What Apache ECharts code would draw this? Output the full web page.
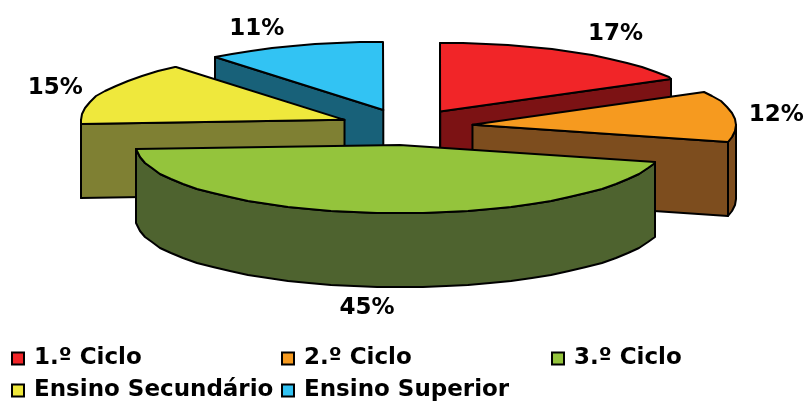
<!DOCTYPE html>
<html><head><meta charset="utf-8">
<style>html,body{margin:0;padding:0;background:#fff}#c{width:807px;height:401px}</style>
<script src="https://cdn.jsdelivr.net/npm/echarts@6/dist/echarts.min.js"></script>
</head><body><div id="c"></div>
<script>
const categories = ['1.º Ciclo','2.º Ciclo','3.º Ciclo','Ensino Secundário','Ensino Superior'];
const values = [17,12,45,15,11];
const topColors = ['#f12528','#f69a1f','#94c43c','#efe83c','#32c3f3'];
const sideColors = ['#7c1214','#7d4d1e','#4e632f','#7f8033','#186179'];

// projection of the tilted, exploded pie
const CX=406, CY=127, RX=264, RY=68.5, EX=67, EY=18, DEPTH=74, STEP=5;
const FONT='bold 23px "DejaVu Sans", Verdana, sans-serif';
const labelNudge=[[-1,1],[0,2],[4,-2],[-5,4],[5,5]];
const total = values.reduce((a,b)=>a+b,0);
const rad = d => d*Math.PI/180;
const starts = []; values.reduce((s,v,i)=>(starts[i]=s, s+v/total*360),0);

function build(i, v, pal){
  const a0=starts[i], a1=a0+v/total*360, mid=(a0+a1)/2;
  const ax=CX+EX*Math.sin(rad(mid)), ay=CY-EY*Math.cos(rad(mid));
  const pt=d=>[Math.round(ax+RX*Math.sin(rad(d))), Math.round(ay-RY*Math.cos(rad(d)))];
  const angles=[a0];
  for(let d=Math.ceil(a0/STEP+1e-6)*STEP;d<a1;d+=STEP) angles.push(d);
  angles.push(a1);
  const apex=[ax,ay], arc=angles.map(pt);
  const outline=[apex].concat(arc);
  const kids=[];
  const line={stroke:'#000',lineWidth:2,lineJoin:'round',fill:pal.side};
  const wall=(pts)=>{
    const low=pts.slice().reverse().map(p=>[p[0],p[1]+DEPTH]);
    kids.push({type:'polygon',shape:{points:pts.concat(low)},style:line,silent:true});
  };
  // only the walls that face the viewer
  if(arc[arc.length-1][0]>apex[0]) wall([arc[arc.length-1],apex]);
  if(arc[0][0]<apex[0]) wall([apex,arc[0]]);
  const front=angles.filter(d=>d>=90&&d<=270);
  const a90=Math.max(a0,90), a270=Math.min(a1,270);
  if(a90<a270){
    const fa=[a90].concat(front.filter(d=>d>a90&&d<a270),[a270]);
    wall(fa.map(pt));
  }
  kids.push({type:'polygon',shape:{points:outline},
    style:{stroke:'#000',lineWidth:2,lineJoin:'round',fill:pal.top},silent:true});
  const sn=Math.sin(rad(mid)), cs=Math.cos(rad(mid));
  const lx=ax+RX*sn+42*Math.max(-1,Math.min(1,sn*3))+labelNudge[i][0];
  const ly=ay-RY*cs*1.33+(cs<0?DEPTH:0)+labelNudge[i][1];
  kids.push({type:'text',silent:true,style:{text:Math.round(v/total*100)+'%',x:lx,y:ly,
    font:FONT,fill:'#000',align:'center',verticalAlign:'middle'}});
  return {type:'group',children:kids};
}

const depthRank = values.map((v,i)=>-Math.cos(rad(starts[i]+v/total*180)));
const series = categories.map((name,i)=>({
  type:'custom', name, coordinateSystem:'none', data:[values[i]],
  z: 2+depthRank.slice().sort((a,b)=>a-b).indexOf(depthRank[i]),
  itemStyle:{color:topColors[i]},
  renderItem:(p,api)=>build(i,api.value(0),{top:topColors[i],side:sideColors[i]})
}));
const legendBase={orient:'vertical',top:347,height:70,icon:'rect',itemWidth:12,itemHeight:12,itemGap:9,
  padding:0,selectedMode:false,
  itemStyle:{borderColor:'#000',borderWidth:2},
  textStyle:{fontFamily:'DejaVu Sans',fontWeight:'bold',fontSize:23,color:'#000',padding:[0,0,0,5]}};
const columns=[[0,3],[1,4],[2]], lefts=[11,281,551];
const chart=echarts.init(document.getElementById('c'));
chart.setOption({animation:false,backgroundColor:'#fff',series,
  legend:columns.map((c,k)=>Object.assign({},legendBase,{left:lefts[k],data:c.map(i=>categories[i])}))});
</script></body></html>
